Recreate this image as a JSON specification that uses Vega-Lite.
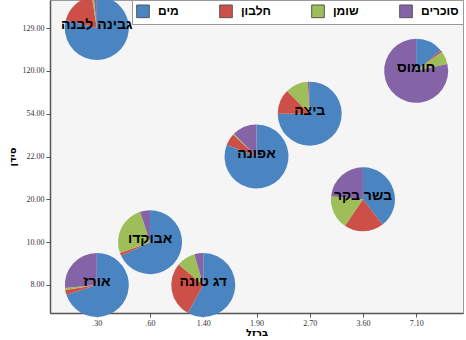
{
  "$schema": "https://vega.github.io/schema/vega-lite/v6.json",
  "width": 413,
  "height": 313,
  "autosize": "none",
  "padding": {"left": 50, "top": 0, "right": 3, "bottom": 27},
  "background": "#ffffff",
  "config": {
    "view": {"fill": "#F5F5F5", "stroke": "#9a9a9a", "strokeWidth": 1},
    "axis": {
      "labelFont": "Liberation Serif",
      "labelFontSize": 8,
      "labelColor": "#333333",
      "domainColor": "#555555",
      "domainWidth": 1.5,
      "tickColor": "#555555",
      "tickSize": 4,
      "grid": false,
      "titleFont": "DejaVu Sans",
      "titleFontWeight": "bold",
      "titleFontSize": 10,
      "titleColor": "#000000"
    }
  },
  "data": {
    "values": [
      {"food": "גבינה לבנה", "iron": ".30", "calcium": "129.00", "part": "מים", "k": 1, "value": 79},
      {"food": "גבינה לבנה", "iron": ".30", "calcium": "129.00", "part": "חלבון", "k": 2, "value": 18.5},
      {"food": "גבינה לבנה", "iron": ".30", "calcium": "129.00", "part": "שומן", "k": 3, "value": 1},
      {"food": "גבינה לבנה", "iron": ".30", "calcium": "129.00", "part": "סוכרים", "k": 4, "value": 1.5},
      {"food": "אורז", "iron": ".30", "calcium": "8.00", "part": "מים", "k": 1, "value": 70},
      {"food": "אורז", "iron": ".30", "calcium": "8.00", "part": "חלבון", "k": 2, "value": 2.5},
      {"food": "אורז", "iron": ".30", "calcium": "8.00", "part": "שומן", "k": 3, "value": 1},
      {"food": "אורז", "iron": ".30", "calcium": "8.00", "part": "סוכרים", "k": 4, "value": 26.5},
      {"food": "אבוקדו", "iron": ".60", "calcium": "10.00", "part": "מים", "k": 1, "value": 68},
      {"food": "אבוקדו", "iron": ".60", "calcium": "10.00", "part": "חלבון", "k": 2, "value": 1.5},
      {"food": "אבוקדו", "iron": ".60", "calcium": "10.00", "part": "שומן", "k": 3, "value": 25.5},
      {"food": "אבוקדו", "iron": ".60", "calcium": "10.00", "part": "סוכרים", "k": 4, "value": 5},
      {"food": "דג טונה", "iron": "1.40", "calcium": "8.00", "part": "מים", "k": 1, "value": 58},
      {"food": "דג טונה", "iron": "1.40", "calcium": "8.00", "part": "חלבון", "k": 2, "value": 28},
      {"food": "דג טונה", "iron": "1.40", "calcium": "8.00", "part": "שומן", "k": 3, "value": 9.5},
      {"food": "דג טונה", "iron": "1.40", "calcium": "8.00", "part": "סוכרים", "k": 4, "value": 4.5},
      {"food": "אפונה", "iron": "1.90", "calcium": "22.00", "part": "מים", "k": 1, "value": 81},
      {"food": "אפונה", "iron": "1.90", "calcium": "22.00", "part": "חלבון", "k": 2, "value": 6},
      {"food": "אפונה", "iron": "1.90", "calcium": "22.00", "part": "שומן", "k": 3, "value": 0.5},
      {"food": "אפונה", "iron": "1.90", "calcium": "22.00", "part": "סוכרים", "k": 4, "value": 12.5},
      {"food": "ביצה", "iron": "2.70", "calcium": "54.00", "part": "מים", "k": 1, "value": 75},
      {"food": "ביצה", "iron": "2.70", "calcium": "54.00", "part": "חלבון", "k": 2, "value": 12.5},
      {"food": "ביצה", "iron": "2.70", "calcium": "54.00", "part": "שומן", "k": 3, "value": 11.5},
      {"food": "ביצה", "iron": "2.70", "calcium": "54.00", "part": "סוכרים", "k": 4, "value": 1},
      {"food": "בשר בקר", "iron": "3.60", "calcium": "20.00", "part": "מים", "k": 1, "value": 39.5},
      {"food": "בשר בקר", "iron": "3.60", "calcium": "20.00", "part": "חלבון", "k": 2, "value": 20},
      {"food": "בשר בקר", "iron": "3.60", "calcium": "20.00", "part": "שומן", "k": 3, "value": 17},
      {"food": "בשר בקר", "iron": "3.60", "calcium": "20.00", "part": "סוכרים", "k": 4, "value": 23.5},
      {"food": "חומוס", "iron": "7.10", "calcium": "120.00", "part": "מים", "k": 1, "value": 14},
      {"food": "חומוס", "iron": "7.10", "calcium": "120.00", "part": "חלבון", "k": 2, "value": 1},
      {"food": "חומוס", "iron": "7.10", "calcium": "120.00", "part": "שומן", "k": 3, "value": 6.5},
      {"food": "חומוס", "iron": "7.10", "calcium": "120.00", "part": "סוכרים", "k": 4, "value": 78.5}
    ]
  },
  "encoding": {
    "x": {
      "field": "iron", "type": "ordinal", "title": "ברזל",
      "sort": [".30", ".60", "1.40", "1.90", "2.70", "3.60", "7.10"],
      "scale": {"type": "point", "padding": 0.88},
      "axis": {"labelAngle": 0, "labelPadding": 2, "titlePadding": 0}
    },
    "y": {
      "field": "calcium", "type": "ordinal", "title": "סידן",
      "sort": ["129.00", "120.00", "54.00", "22.00", "20.00", "10.00", "8.00"],
      "scale": {"type": "point", "padding": 0.655},
      "axis": {"labelPadding": 2, "titlePadding": 5}
    }
  },
  "layer": [
    {
      "transform": [
        {"stack": "value", "groupby": ["food"], "sort": [{"field": "k", "order": "ascending"}], "offset": "normalize", "as": ["t0", "t1"]}
      ],
      "mark": {"type": "arc", "outerRadius": 32},
      "encoding": {
        "theta": {"field": "t0", "type": "quantitative", "scale": {"domain": [0, 1]}},
        "theta2": {"field": "t1"},
        "color": {
          "field": "part", "type": "nominal", "title": null,
          "scale": {"domain": ["מים", "חלבון", "שומן", "סוכרים"], "range": ["#4A85C1", "#CC5047", "#9DBE59", "#8464A6"]},
          "legend": {
            "orient": "top-right", "offset": 0, "direction": "horizontal", "columns": 4,
            "symbolType": "square", "symbolSize": 160, "symbolStrokeColor": "#555555", "symbolStrokeWidth": 1,
            "labelFont": "Liberation Sans", "labelFontWeight": "bold", "labelFontSize": 12, "labelColor": "#000000",
            "labelOffset": 8, "columnPadding": 38, "padding": 4,
            "fillColor": "#ffffff", "strokeColor": "#999999"
          }
        }
      }
    },
    {
      "transform": [{"filter": {"field": "k", "equal": 1}}],
      "mark": {"type": "text", "font": "Liberation Sans", "fontWeight": "bold", "fontSize": 14, "color": "#000000", "baseline": "middle", "dy": -3},
      "encoding": {"text": {"field": "food"}}
    }
  ]
}
